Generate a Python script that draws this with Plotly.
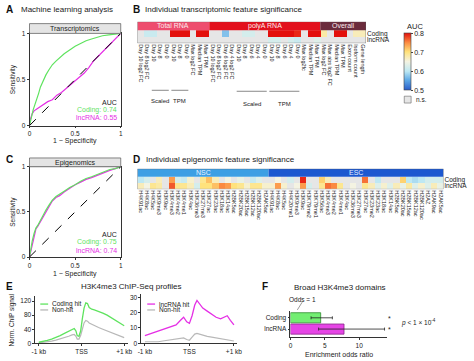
import plotly.graph_objects as go

W, H = 474, 361
FONT = "Liberation Sans, Arial, Helvetica, sans-serif"
GREEN = "#5fe35f"
MAGENTA = "#e52fe5"
NS_GRAY = "#e6e6e6"


def px(x):
    return x / W


def py(y):
    return 1 - y / H


# ---------------- Data ----------------
# Panel A: ROC transcriptomics
tx_coding_fpr = [0, 0.01, 0.02, 0.04, 0.06, 0.08, 0.10, 0.12, 0.15, 0.18, 0.21, 0.25, 0.29, 0.33, 0.38, 0.44,
                 0.50, 0.56, 0.62, 0.68, 0.74, 0.80, 0.87, 0.93, 1.0]
tx_coding_tpr = [0, 0.05, 0.10, 0.17, 0.23, 0.28, 0.35, 0.42, 0.49, 0.55, 0.60, 0.66, 0.70, 0.74, 0.78, 0.82,
                 0.86, 0.89, 0.92, 0.94, 0.96, 0.975, 0.985, 0.99, 1.0]
tx_lnc_fpr = [0, 0.01, 0.03, 0.05, 0.08, 0.12, 0.16, 0.20, 0.25, 0.30, 0.35, 0.40, 0.45, 0.50, 0.55, 0.60,
              0.65, 0.70, 0.75, 0.80, 0.85, 0.90, 0.95, 1.0]
tx_lnc_tpr = [0, 0.07, 0.13, 0.16, 0.18, 0.21, 0.24, 0.26, 0.28, 0.33, 0.36, 0.40, 0.44, 0.48, 0.53, 0.57,
              0.63, 0.70, 0.75, 0.80, 0.85, 0.90, 0.95, 1.0]
tx_auc = {"Coding": 0.74, "lncRNA": 0.55}

# Panel C: ROC epigenomics
ep_fpr = [0, 0.01, 0.03, 0.05, 0.07, 0.09, 0.12, 0.15, 0.18, 0.21, 0.25, 0.29, 0.33, 0.38, 0.44, 0.50,
          0.56, 0.62, 0.68, 0.75, 0.82, 0.88, 0.94, 1.0]
ep_coding_tpr = [0, 0.08, 0.18, 0.26, 0.32, 0.35, 0.41, 0.47, 0.52, 0.57, 0.63, 0.67, 0.70, 0.73, 0.77, 0.80,
                 0.84, 0.87, 0.89, 0.92, 0.95, 0.97, 0.98, 1.0]
ep_lnc_tpr = [0, 0.05, 0.14, 0.24, 0.31, 0.34, 0.39, 0.45, 0.50, 0.55, 0.62, 0.66, 0.68, 0.72, 0.76, 0.80,
              0.83, 0.86, 0.88, 0.91, 0.94, 0.96, 0.98, 1.0]
ep_auc = {"Coding": 0.75, "lncRNA": 0.74}

# Panel B: transcriptomic feature AUCs (None = n.s.)
b_groups = [("Total RNA", 11, "#ee4d6e"), ("polyA RNA", 17, "#e3101c"), ("Overall", 7, "#6b2c3c")]
b_labels = ["Day 10 log2 FC", "Day 8 log2 FC", "Day 10", "Day 8", "Day 0", "Day 10", "Day 8", "Day 0",
            "Max log2 FC", "Median TPM", "Max TPM",
            "Day 10 log2 FC", "Day 8 log2 FC", "Day 6 log2 FC", "Day 4 log2 FC", "Day 10", "Day 8", "Day 6",
            "Day 4", "Day 0", "Day 10", "Day 8", "Day 6", "Day 4", "Day 0", "Max log2fc", "Median TPM", "Max TPM",
            "Max log2 FC", "Max abs log2 FC", "Median TPM", "Max TPM", "Exon count", "Isoform count", "Gene length"]
b_coding = [None, 0.61, 0.61, None, None, 0.80, 0.80, 0.80, None, 0.80, 0.80,
            None, None, 0.57, None, None, 0.62, 0.62, None, None, 0.80, 0.80, 0.80, 0.80, 0.79, None, 0.80, 0.80,
            0.68, None, 0.80, 0.80, None, 0.67, 0.67]
b_lnc = [None, None, None, None, None, None, None, None, None, None, None,
         None, None, None, None, None, None, None, None, None, 0.62, 0.62, None, 0.62, 0.61, None, None, 0.63,
         None, None, None, None, None, None, None]
b_subgroups = [("Scaled", 2, 4, 88, 94), ("TPM", 5, 7, 88, 94), ("Scaled", 15, 19, 89, 97), ("TPM", 20, 24, 89, 97)]

# Panel D: epigenomic feature AUCs
nsc_marks = ["H4K91ac", "H4K8ac", "H4K5ac", "H3K9me3", "H3K9ac", "H3K4me3", "H3K4me2", "H3K4me1", "H3K4ac",
             "H3K36me3", "H3K27me3", "H3K27ac", "H3K23ac", "H3K18ac", "H3K14ac", "H2BK5ac", "H2BK20ac",
             "H2BK15ac", "H2BK12ac", "H2BK120ac", "H2AK5ac"]
esc_marks = ["H4K91ac", "H4K8ac", "H4K5ac", "H4K20me1", "H3K9me3", "H3K9ac", "H3K79me2", "H3K79me1", "H3K56ac",
             "H3K4me3", "H3K4me2", "H3K4me1", "H3K4ac", "H3K36me3", "H3K27me3", "H3K27ac", "H3K23me2", "H3K23ac",
             "H3K18ac", "H3K14ac", "H2BK5ac", "H2BK20ac", "H2BK15ac", "H2BK12ac", "H2BK120ac", "H2AZ", "H2AK9ac",
             "H2AK5ac"]
nsc_coding = [0.60, 0.62, None, 0.67, None, 0.74, 0.62, 0.61, 0.66, None, 0.69, 0.72, 0.67, None, 0.65, None,
              0.64, None, 0.61, 0.63, None]
nsc_lnc = [0.67, 0.65, 0.69, 0.68, None, 0.77, 0.69, 0.69, 0.67, 0.62, 0.70, 0.70, 0.72, 0.75, 0.74, 0.70,
           0.69, 0.66, 0.69, 0.69, 0.66]
esc_coding = [None, 0.65, None, 0.62, None, 0.79, None, None, 0.71, 0.67, None, None, None, None, None, 0.76,
              None, 0.60, None, None, None, 0.71, 0.60, 0.59, 0.60, 0.62, 0.62, 0.62]
esc_lnc = [0.66, 0.74, 0.66, None, 0.65, 0.74, 0.62, None, 0.69, 0.76, 0.75, 0.69, None, 0.65, None, 0.69,
           0.67, 0.63, 0.66, 0.63, 0.67, 0.64, 0.68, 0.63, 0.66, 0.63, 0.67, 0.64]
d_groups = [("NSC", len(nsc_marks), "#3d9fe4"), ("ESC", len(esc_marks), "#1c58d0")]

# Panel E: H3K4me3 profiles
e_left_pos = [-1000, -900, -800, -700, -600, -500, -400, -300, -220, -170, -130, -100, -60, -20, 20, 60, 100,
              140, 180, 240, 300, 400, 500, 600, 700, 800, 900, 1000]
e_coding_hit = [3, 5, 8, 12, 16, 22, 28, 35, 40, 42, 35, 22, 20, 35, 70, 100, 115, 113, 102, 97, 95, 91, 86, 80,
                72, 64, 57, 50]
e_coding_non = [1, 2, 4, 6, 9, 12, 16, 20, 24, 25, 20, 12, 12, 22, 40, 58, 65, 63, 58, 54, 50, 45, 40, 35, 30,
                25, 20, 16]
e_right_pos = [-1000, -900, -800, -700, -600, -500, -400, -300, -200, -130, -60, 0, 60, 120, 170, 220, 300, 400,
               500, 600, 700, 780, 850, 920, 1000]
e_lnc_hit = [5, 6, 7, 8, 9, 10, 11, 12, 15, 17, 14, 13, 18, 25, 28, 26, 23, 21, 19, 17, 16, 17, 18, 15, 12]
e_lnc_non = [1, 1, 1, 1, 1.5, 2, 2, 2.5, 3, 3.5, 2.5, 2, 4, 6, 6.5, 6, 5, 4.5, 4, 3.5, 3, 2.5, 2, 2, 1.5]
e_ticks = [-1000, 0, 1000]
e_ticklabels = ["-1 kb", "TSS", "+1 kb"]

# Panel F: broad domains enrichment
f_categories = ["Coding", "lncRNA"]
f_odds = [4.4, 7.8]
f_ci_low = [3.0, 4.1]
f_ci_high = [6.1, 13.7]
f_colors = ["#72ee72", "#e645e6"]
f_edge = ["#2f8a2f", "#8a2a8a"]

CS = [[0.0, "#2a5cc9"], [0.17, "#5ca8e6"], [0.33, "#bde8f3"], [0.5, "#f4f3e2"], [0.67, "#ffe27a"],
      [0.83, "#fb8c42"], [1.0, "#e3100c"]]

fig = go.Figure()

# ---------- ROC panels ----------
for ax, (fc, tc, fl, tl) in [("", (tx_coding_fpr, tx_coding_tpr, tx_lnc_fpr, tx_lnc_tpr)),
                             ("2", (ep_fpr, ep_coding_tpr, ep_fpr, ep_lnc_tpr))]:
    fig.add_trace(go.Scatter(x=fl, y=tl, mode="lines", line=dict(color=MAGENTA, width=1.2),
                             xaxis="x" + ax, yaxis="y" + ax, showlegend=False, hoverinfo="skip"))
    fig.add_trace(go.Scatter(x=fc, y=tc, mode="lines", line=dict(color=GREEN, width=1.2),
                             xaxis="x" + ax, yaxis="y" + ax, showlegend=False, hoverinfo="skip"))
    fig.add_shape(type="line", xref="x" + ax, yref="y" + ax, x0=0, y0=0, x1=1, y1=1,
                  line=dict(color="black", width=1, dash="dash"))

# ---------- Heatmap B ----------
nb = len(b_labels)
zb = [b_lnc, b_coding]
fig.add_trace(go.Heatmap(z=[[1 if v is None else None for v in r] for r in zb], x=list(range(nb)), y=[0, 1],
                         colorscale=[[0, NS_GRAY], [1, NS_GRAY]], showscale=False, xaxis="x3", yaxis="y3",
                         hoverinfo="skip"))
fig.add_trace(go.Heatmap(z=zb, x=list(range(nb)), y=[0, 1], colorscale=CS, zmin=0.5, zmax=0.8,
                         xaxis="x3", yaxis="y3", hoverinfo="skip",
                         colorbar=dict(x=px(408), xanchor="left", y=py(30), yanchor="top", len=58 / H,
                                       lenmode="fraction", thickness=7, thicknessmode="pixels",
                                       tickvals=[0.5, 0.6, 0.7, 0.8], ticktext=["0.5", "0.6", "0.7", "0.8"],
                                       tickfont=dict(size=7, family=FONT, color="#222"), outlinewidth=0.6,
                                       outlinecolor="#444", xpad=0, ypad=0, ticks="outside", ticklen=2)))
start = -0.5
for name, n, col in b_groups:
    fig.add_shape(type="rect", xref="x3", yref="y3", x0=start, x1=start + n, y0=1.5, y1=2.8,
                  fillcolor=col, line=dict(width=0))
    fig.add_annotation(xref="x3", yref="y3", x=start + n / 2, y=2.15, text=name, showarrow=False,
                       font=dict(size=7, color="#fbe9ec", family=FONT))
    start += n
fig.add_shape(type="rect", xref="x3", yref="y3", x0=-0.5, x1=nb - 0.5, y0=-0.5, y1=2.8,
              line=dict(color="#555", width=0.6))
for name, c0, c1, ly, ty in b_subgroups:
    fig.add_shape(type="line", xref="x3", yref="paper", x0=c0 - 0.3, x1=c1 + 0.3, y0=py(ly), y1=py(ly),
                  line=dict(color="#555", width=0.7))
    fig.add_annotation(xref="x3", yref="paper", x=(c0 + c1) / 2, y=py(ty), text=name, showarrow=False,
                       font=dict(size=6, color="#222", family=FONT))

# ---------- Heatmap D ----------
d_labels = nsc_marks + esc_marks
nd = len(d_labels)
zd = [nsc_lnc + esc_lnc, nsc_coding + esc_coding]
fig.add_trace(go.Heatmap(z=[[1 if v is None else None for v in r] for r in zd], x=list(range(nd)), y=[0, 1],
                         colorscale=[[0, NS_GRAY], [1, NS_GRAY]], showscale=False, xaxis="x4", yaxis="y4",
                         hoverinfo="skip"))
fig.add_trace(go.Heatmap(z=zd, x=list(range(nd)), y=[0, 1], colorscale=CS, zmin=0.5, zmax=0.8, showscale=False,
                         xaxis="x4", yaxis="y4", hoverinfo="skip"))
start = -0.5
for name, n, col in d_groups:
    fig.add_shape(type="rect", xref="x4", yref="y4", x0=start, x1=start + n, y0=1.5, y1=2.8,
                  fillcolor=col, line=dict(width=0))
    fig.add_annotation(xref="x4", yref="y4", x=start + n / 2, y=2.15, text=name, showarrow=False,
                       font=dict(size=7, color="#e8f2ff", family=FONT))
    start += n
fig.add_shape(type="rect", xref="x4", yref="y4", x0=-0.5, x1=nd - 0.5, y0=-0.5, y1=2.8,
              line=dict(color="#555", width=0.6))

# ---------- Panel E ----------
fig.add_trace(go.Scatter(x=e_left_pos, y=e_coding_non, mode="lines", line=dict(color="#b8b8b8", width=1.2),
                         xaxis="x5", yaxis="y5", showlegend=False, hoverinfo="skip"))
fig.add_trace(go.Scatter(x=e_left_pos, y=e_coding_hit, mode="lines", line=dict(color=GREEN, width=1.3),
                         xaxis="x5", yaxis="y5", showlegend=False, hoverinfo="skip"))
fig.add_trace(go.Scatter(x=e_right_pos, y=e_lnc_non, mode="lines", line=dict(color="#b8b8b8", width=1.2),
                         xaxis="x6", yaxis="y6", showlegend=False, hoverinfo="skip"))
fig.add_trace(go.Scatter(x=e_right_pos, y=e_lnc_hit, mode="lines", line=dict(color=MAGENTA, width=1.3),
                         xaxis="x6", yaxis="y6", showlegend=False, hoverinfo="skip"))

# ---------- Panel F ----------
fig.add_trace(go.Bar(y=f_categories, x=f_odds, orientation="h", width=0.9,
                     marker=dict(color=f_colors, line=dict(color=f_edge, width=0.8)),
                     error_x=dict(type="data", symmetric=False,
                                  array=[h - o for h, o in zip(f_ci_high, f_odds)],
                                  arrayminus=[o - l for o, l in zip(f_odds, f_ci_low)],
                                  color="#222", thickness=0.8, width=1.5),
                     xaxis="x7", yaxis="y7", showlegend=False, hoverinfo="skip"))

# ---------- Layout ----------
tickfont = dict(size=6.5, family=FONT, color="#222")
common_line = dict(showline=True, linecolor="#333", linewidth=0.8, ticks="outside", ticklen=2,
                   tickwidth=0.8, tickcolor="#333", showgrid=False, zeroline=False, tickfont=tickfont)


def roc_axes(top, bottom, anchor_x, anchor_y):
    xa = dict(domain=[px(26), px(119)], range=[0, 1], tickvals=[0, 0.5, 1], ticktext=["0", "0.5", "1"],
              anchor=anchor_y, mirror=True, **common_line)
    ya = dict(domain=[py(bottom), py(top)], range=[0, 1], tickvals=[0, 0.5, 1], ticktext=["0", "0.5", "1"],
              anchor=anchor_x, mirror=True, **common_line)
    return xa, ya


xa1, ya1 = roc_axes(30, 124, "x", "y")
xa2, ya2 = roc_axes(166, 258, "x2", "y2")

hm_x = dict(showgrid=False, zeroline=False, ticks="", showline=False, tickangle=90,
            tickfont=dict(size=5.5, family=FONT, color="#222"))
hm_y = dict(showgrid=False, zeroline=False, ticks="", showline=False, side="right", tickvals=[0, 1],
            ticktext=["lncRNA", "Coding"], range=[-0.5, 2.8], tickfont=dict(size=6.5, family=FONT, color="#222"))

fig.update_layout(
    width=W, height=H, autosize=False, margin=dict(l=0, r=0, t=0, b=0),
    paper_bgcolor="white", plot_bgcolor="white", font=dict(family=FONT, color="#222"),
    xaxis=xa1, yaxis=ya1, xaxis2=xa2, yaxis2=ya2,
    xaxis3=dict(domain=[px(136), px(369)], range=[-0.5, nb - 0.5], tickvals=list(range(nb)), ticktext=b_labels,
                anchor="y3", **hm_x),
    yaxis3=dict(domain=[py(40), py(18)], anchor="x3", **hm_y),
    xaxis4=dict(domain=[px(136), px(448)], range=[-0.5, nd - 0.5], tickvals=list(range(nd)), ticktext=d_labels,
                anchor="y4", **hm_x),
    yaxis4=dict(domain=[py(189), py(168)], anchor="x4", **hm_y),
    xaxis5=dict(domain=[px(32), px(126)], range=[-1080, 1080], tickvals=e_ticks, ticktext=e_ticklabels,
                anchor="y5", **common_line),
    yaxis5=dict(domain=[py(346), py(298)], range=[0, 134], tickvals=[0, 40, 80, 120], anchor="x5", **common_line),
    xaxis6=dict(domain=[px(140), px(238)], range=[-1080, 1080], tickvals=e_ticks, ticktext=e_ticklabels,
                anchor="y6", **common_line),
    yaxis6=dict(domain=[py(346), py(296)], range=[0, 32], tickvals=[0, 10, 20, 30], anchor="x6", **common_line),
    xaxis7=dict(domain=[px(292), px(390)], range=[0, 14], tickvals=[0, 5, 10], anchor="y7", **common_line),
    yaxis7=dict(domain=[py(340), py(313)], range=[1.74, -0.61], type="category", categoryarray=f_categories,
                anchor="x7", **common_line),
)


def ann(text, x, y, size=7, color="#222", xanchor="center", bold=False, angle=0):
    if bold:
        text = "<b>" + text + "</b>"
    fig.add_annotation(xref="paper", yref="paper", x=px(x), y=py(y), text=text, showarrow=False,
                       xanchor=xanchor, yanchor="middle", textangle=angle,
                       font=dict(size=size, color=color, family=FONT))


# Panel letters and titles
ann("A", 0, 6, 10, "#111", "left", True)
ann("Machine learning analysis", 15, 6, 8, "#222", "left")
ann("B", 129, 6, 10, "#111", "left", True)
ann("Individual transcriptomic feature significance", 142, 6, 8, "#222", "left")
ann("C", 0, 159, 10, "#111", "left", True)
ann("D", 129, 159, 10, "#111", "left", True)
ann("Individual epigenomic feature significance", 143, 159, 8, "#222", "left")
ann("E", 0, 288, 10, "#111", "left", True)
ann("H3K4me3 ChIP-Seq profiles", 130, 288, 8)
ann("F", 261, 288, 10, "#111", "left", True)
ann("Broad H3K4me3 domains", 343, 289, 8)

# ROC headers and labels
for top, bot, label, auc, ytxt in [(20, 30, "Transcriptomics", tx_auc, 100), (157, 166, "Epigenomics", ep_auc, 235)]:
    fig.add_shape(type="rect", xref="paper", yref="paper", x0=px(26), x1=px(119), y0=py(bot), y1=py(top),
                  fillcolor="#e4e4e4", line=dict(color="#555", width=0.7))
    ann(label, 72.5, (top + bot) / 2 + 0.5, 7)
    ann("AUC", 117, ytxt, 7, "#222", "right")
    ann("Coding: %.2f" % auc["Coding"], 117, ytxt + 8, 7, GREEN, "right")
    ann("lncRNA: %.2f" % auc["lncRNA"], 117, ytxt + 16, 7, MAGENTA, "right")
ann("Sensitivity", 9, 77, 6.5, angle=-90)
ann("1 − Specificity", 72.5, 139.5, 7)
ann("Sensitivity", 9, 212, 6.5, angle=-90)
ann("1 − Specificity", 72.5, 275, 7)

# Colorbar title and n.s. key
ann("AUC", 409, 23, 7.5, "#222", "left")
fig.add_shape(type="rect", xref="paper", yref="paper", x0=px(408), x1=px(415), y0=py(101), y1=py(94),
              fillcolor=NS_GRAY, line=dict(color="#666", width=0.6))
ann("n.s.", 418, 97.5, 6.5, "#222", "left")

# Panel E legends and label
ann("Norm. ChIP signal", 8, 322, 6.5, angle=-90)
for x0, items in [(37, [("Coding hit", GREEN), ("Non-hit", "#b8b8b8")]),
                  (146, [("lncRNA hit", MAGENTA), ("Non-hit", "#b8b8b8")])]:
    for i, (name, col) in enumerate(items):
        yy = 306 + 6 * i
        fig.add_shape(type="line", xref="paper", yref="paper", x0=px(x0), x1=px(x0 + 8), y0=py(yy), y1=py(yy),
                      line=dict(color=col, width=1.3))
        ann(name, x0 + 10, yy, 6.5, "#222", "left")

# Panel F extras
ann("Odds = 1", 304, 301, 6.5)
fig.add_shape(type="line", xref="paper", yref="paper", x0=px(304), y0=py(304), x1=px(299), y1=py(312),
              line=dict(color="#555", width=0.6))
ann("*", 393, 321, 7)
ann("*", 393, 332, 7)
ann("<i>p</i> < 1 × 10<sup>-4</sup>", 403, 325, 6.5, "#222", "left")
ann("Enrichment odds ratio", 341, 357, 7)

fig.write_html("out.html", config={"displayModeBar": False},
               post_script="document.body.style.margin='0';document.body.style.padding='0';")
